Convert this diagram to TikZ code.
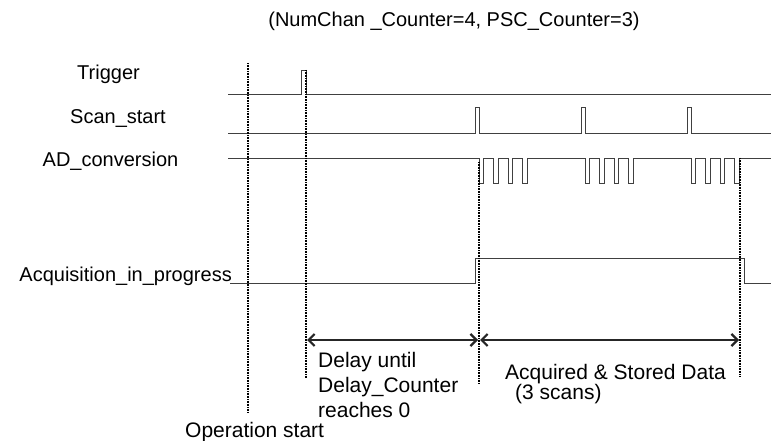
\documentclass[tikz,border=0pt]{standalone}
\usepackage{fontspec}
\setmainfont{Liberation Sans}
\usetikzlibrary{arrows.meta}

\begin{document}
\begin{tikzpicture}[x=1pt, y=-1pt,
    signal/.style={line width=0.9pt, black!75},
    marker/.style={line width=1.1pt, dash pattern=on 1pt off 0.6pt},
    span/.style={{Straight Barb[length=6pt,width=12pt]}-{Straight Barb[length=6pt,width=12pt]}, line width=2.2pt, black!85},
    lbl/.style={font=\fontsize{20}{24}\selectfont, inner sep=0pt},
    note/.style={font=\fontsize{21}{25}\selectfont, inner sep=0pt, align=left}]
    \useasboundingbox (0,0) rectangle (771,441);

    \node[lbl, anchor=base] (title) at (454,27) {(NumChan \_Counter=4, PSC\_Counter=3)};
    \node[lbl, anchor=base] (trig) at (108.5,80) {Trigger};
    \node[lbl, anchor=base] (scan) at (118,124) {Scan\_start};
    \node[lbl, anchor=base] (adc) at (110.5,166.5) {AD\_conversion};
    \node[lbl, anchor=base east] (acq) at (232,281.5) {Acquisition\_in\_progress};

    \draw[signal] (228,94) -| (301,70) -| (306,94) -- (771,94);
    \draw[signal] (228,133) \foreach \s in {475,581,687} { -| (\s,107) -| (\s+4,133) } -- (771,133);
    \draw[signal] (228,158) \foreach \s in {479,585,691} {
        \foreach \k in {0,...,3} { -| (\s+14.6*\k,183) -| (\s+14.6*\k+4.7,158) } } -- (771,158);
    \draw[signal] (230,283) -| (475,258) -| (744,283) -- (771,283);

    \coordinate (m1t) at (248,63);
    \coordinate (m1b) at (248,413);
    \coordinate (m2t) at (306,70);
    \coordinate (m2b) at (306,378);
    \coordinate (m3t) at (479,162);
    \coordinate (m3b) at (479,384);
    \coordinate (m4t) at (740,158);
    \coordinate (m4b) at (740,377);
    \draw[marker] (m1t) -- (m1b);
    \draw[marker] (m2t) -- (m2b);
    \draw[marker] (m3t) -- (m3b);
    \draw[marker] (m4t) -- (m4b);

    \coordinate (a1) at (307,340);
    \coordinate (a2) at (478,340);
    \coordinate (a3) at (480,340);
    \coordinate (a4) at (739,340);
    \draw[span] (a1) -- (a2);
    \draw[span] (a3) -- (a4);

    \node[note, anchor=base west] (delay) at (318,417) {Delay until\\Delay\_Counter\\reaches 0};
    \node[note, anchor=base west] (stored) at (505,379) {Acquired \& Stored Data};
    \node[note, anchor=base west] (nscans) at (515,399) {(3 scans)};
    \node[note, anchor=base west] (opstart) at (185,437) {Operation start};
\end{tikzpicture}
\end{document}
